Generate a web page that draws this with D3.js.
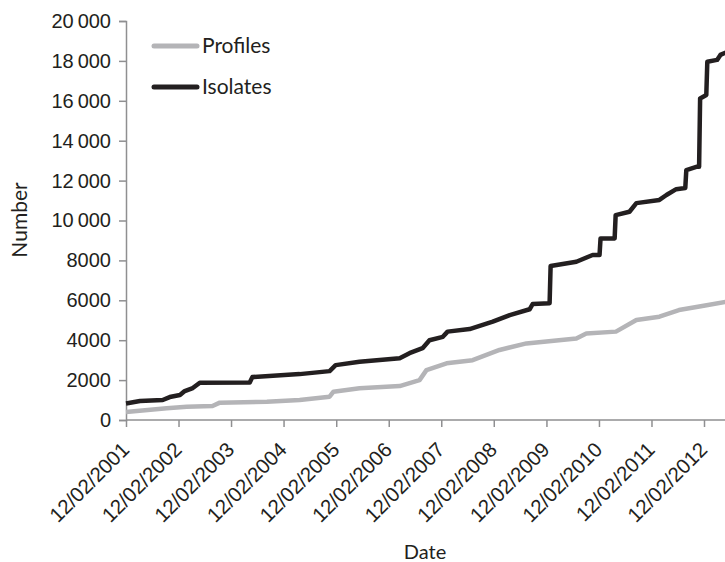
<!DOCTYPE html>
<html lang="en">
<head>
<meta charset="UTF-8">
<title>Profiles and isolates</title>
<style>
    body { margin: 0; background: #fff; }
    svg { display: block; font-family: Lato, "Open Sans", sans-serif; }
    .axis text { fill: #231f20; font-size: 20px; }
    .axis.x text { font-size: 20.5px; }
</style>
</head>
<body>
<div id="content"></div>
<script src="https://d3js.org/d3.v7.min.js"></script>
<script>
    // cumulative counts
    var isolateDates = ["2001-02-12", "2001-05-20", "2001-10-25", "2001-12-13", "2002-02-22", "2002-03-27",
        "2002-05-22", "2002-07-10", "2003-06-22", "2003-07-10", "2004-06-03", "2004-12-28", "2005-02-08",
        "2005-07-24", "2006-04-29", "2006-07-06", "2006-10-05", "2006-11-22", "2007-02-23", "2007-03-28",
        "2007-08-28", "2008-02-05", "2008-06-02", "2008-10-18", "2008-11-08", "2009-03-06", "2009-03-13",
        "2009-09-08", "2009-12-30", "2010-02-16", "2010-02-23", "2010-06-01", "2010-06-08", "2010-09-12",
        "2010-10-30", "2011-04-08", "2011-05-27", "2011-08-03", "2011-10-05", "2011-10-12", "2011-12-26",
        "2012-01-09", "2012-01-16", "2012-02-28", "2012-03-06", "2012-05-13", "2012-06-05", "2012-08-07"];
    var isolateValues = [830, 950, 1000, 1150, 1250, 1450,
        1600, 1870, 1880, 2150, 2300, 2450, 2750,
        2920, 3100, 3350, 3600, 4000, 4170, 4430,
        4560, 4930, 5260, 5550, 5810, 5850, 7720,
        7930, 8270, 8270, 9100, 9100, 10270, 10440,
        10870, 11030, 11280, 11570, 11630, 12530, 12700,
        12700, 16120, 16290, 17960, 18050, 18300, 18500];

    var profileDates = ["2001-02-12", "2001-11-22", "2002-04-10", "2002-10-06", "2002-11-26", "2003-10-19",
        "2004-06-03", "2004-12-28", "2005-01-24", "2005-07-24", "2006-04-29", "2006-09-14", "2006-11-01",
        "2007-03-21", "2007-09-18", "2008-03-23", "2008-09-26", "2009-09-08", "2009-11-16", "2010-06-10",
        "2010-10-30", "2011-04-08", "2011-08-22", "2012-01-31", "2012-08-07"];
    var profileValues = [400, 590, 670, 700, 870, 920,
        1000, 1170, 1420, 1590, 1700, 2000, 2500,
        2840, 3000, 3510, 3840, 4090, 4340, 4430,
        5010, 5180, 5510, 5710, 5950];

    var tickDates = ["2001-02-12", "2002-02-12", "2003-02-12", "2004-02-12", "2005-02-12", "2006-02-12",
        "2007-02-12", "2008-02-12", "2009-02-12", "2010-02-12", "2011-02-12", "2012-02-12"];
    var yTicks = [0, 2000, 4000, 6000, 8000, 10000, 12000, 14000, 16000, 18000, 20000];

    var seriesNames = ["Profiles", "Isolates"];
    var seriesColors = ["#b4b4b7", "#231f20"];

    var width = 725, height = 562;
    var parse = d3.timeParse("%Y-%m-%d");
    var fmtTick = d3.timeFormat("%d/%m/%Y");

    var svg = d3.select("#content").append("svg")
        .attr("width", width)
        .attr("height", height);

    var xScale = d3.scaleTime()
        .domain([parse(tickDates[0]), parse(tickDates[tickDates.length - 1])])
        .range([126, 704]);
    var yScale = d3.scaleLinear()
        .domain([0, 20000])
        .range([420, 21]);

    function fmtNum(v) {
        if (v >= 10000) return Math.floor(v / 1000) + "\u2009" + d3.format("03d")(v % 1000);
        return String(v);
    }

    // y axis
    var yAxisG = svg.append("g")
        .attr("class", "axis y")
        .attr("transform", "translate(126,0)")
        .call(d3.axisLeft(yScale).tickValues(yTicks).tickSize(7).tickPadding(8).tickFormat(fmtNum));

    // x axis
    var xAxisG = svg.append("g")
        .attr("class", "axis x")
        .attr("transform", "translate(0,420)")
        .call(d3.axisBottom(xScale).tickValues(tickDates.map(parse)).tickSize(7).tickSizeOuter(0).tickFormat(fmtTick));
    xAxisG.select(".domain").attr("d", "M126,0H" + width);

    xAxisG.selectAll("text")
        .attr("text-anchor", "end")
        .attr("x", 0)
        .attr("y", 0)
        .attr("dy", 0)
        .attr("transform", "translate(4,31) rotate(-45)");

    svg.selectAll(".axis .domain, .axis line")
        .attr("stroke", "#8f8f91")
        .attr("stroke-width", 1.5);

    // axis titles
    svg.append("text")
        .attr("transform", "translate(27,220) rotate(-90)")
        .attr("text-anchor", "middle")
        .attr("fill", "#231f20")
        .style("font-size", "21px")
        .text("Number");
    svg.append("text")
        .attr("x", 425)
        .attr("y", 559)
        .attr("text-anchor", "middle")
        .attr("fill", "#231f20")
        .style("font-size", "20px")
        .text("Date");

    var line = d3.line()
        .x(function (d) { return xScale(d.date); })
        .y(function (d) { return yScale(d.value); });

    function toRows(dates, values) {
        return dates.map(function (d, i) { return {date: parse(d), value: values[i]}; });
    }

    var series = [toRows(profileDates, profileValues), toRows(isolateDates, isolateValues)];

    series.forEach(function (rows, i) {
        svg.append("path")
            .datum(rows)
            .attr("d", line)
            .attr("fill", "none")
            .attr("stroke", seriesColors[i])
            .attr("stroke-width", 4.5)
            .attr("stroke-linejoin", "round");
    });

    // legend
    var legend = svg.append("g");
    seriesNames.forEach(function (name, i) {
        var y = 46 + i * 41;
        legend.append("line")
            .attr("x1", 154).attr("x2", 197)
            .attr("y1", y).attr("y2", y)
            .attr("stroke", seriesColors[i])
            .attr("stroke-width", 5)
            .attr("stroke-linecap", "round");
        legend.append("text")
            .attr("x", 202)
            .attr("y", y + 7)
            .attr("fill", "#231f20")
            .style("font-size", "21px")
            .text(name);
    });
</script>
</body>
</html>
